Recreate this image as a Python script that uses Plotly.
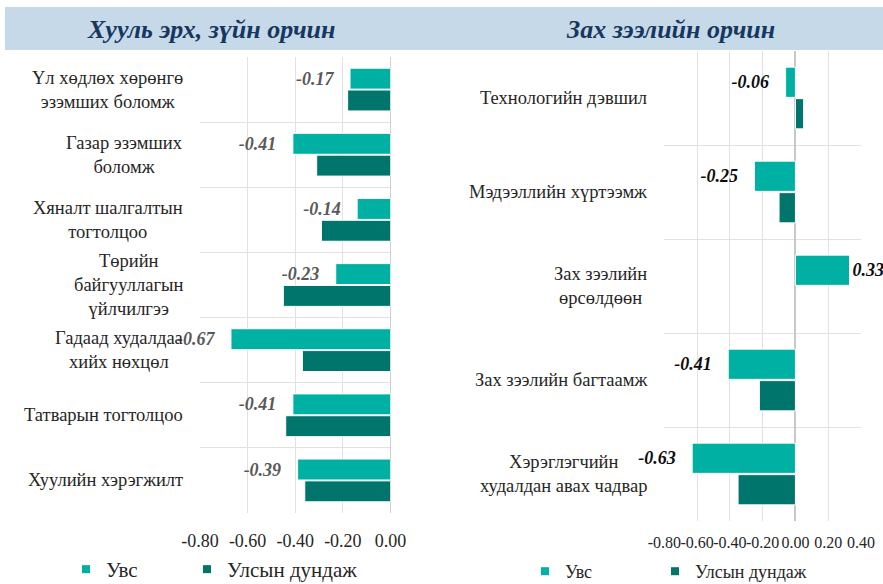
import plotly.graph_objects as go

# ---------------- data ----------------
series_names = ["Увс", "Улсын дундаж"]
panel_titles = ["Хууль эрх, зүйн орчин", "Зах зээлийн орчин"]

left_categories = [
    "Үл хөдлөх хөрөнгө\nэзэмших боломж",
    "Газар эзэмших\nболомж",
    "Хяналт шалгалтын\nтогтолцоо",
    "Төрийн\nбайгууллагын\nүйлчилгээ",
    "Гадаад худалдаа\nхийх нөхцөл",
    "Татварын тогтолцоо",
    "Хуулийн хэрэгжилт",
]
left_uvs = [-0.17, -0.41, -0.14, -0.23, -0.67, -0.41, -0.39]
left_national = [-0.18, -0.31, -0.29, -0.45, -0.37, -0.44, -0.36]
left_xticks = [-0.80, -0.60, -0.40, -0.20, 0.00]

right_categories = [
    "Технологийн дэвшил",
    "Мэдээллийн хүртээмж",
    "Зах зээлийн\nөрсөлдөөн",
    "Зах зээлийн багтаамж",
    "Хэрэглэгчийн\nхудалдан авах чадвар",
]
right_uvs = [-0.06, -0.25, 0.33, -0.41, -0.63]
right_national = [0.05, -0.10, 0.00, -0.22, -0.35]
right_xticks = [-0.80, -0.60, -0.40, -0.20, 0.00, 0.20, 0.40]

# ---------------- style ----------------
FONT = "Liberation Serif, Times New Roman, serif"
C_UVS = "#00B0A3"
C_NAT = "#00756B"
GRID = "#E2E2E2"
W, H = 883, 584
NB = "\u00a0"


def px_x(p):
    return p / W


def px_y(p):
    return 1 - p / H


def lab(v):
    s = f"{v:.2f}"
    return s + NB * 3 if v < 0 else s


def outline(vals):
    # no white outline on zero-length bars (keeps the zero line intact)
    return [0 if v == 0 else 1 for v in vals]


fig = go.Figure()

panels = [
    dict(cats=left_categories, uvs=left_uvs, nat=left_national, xa="x", ya="y",
         lab_color="#595959", legends=["legend", "legend2"]),
    dict(cats=right_categories, uvs=right_uvs, nat=right_national, xa="x2", ya="y2",
         lab_color="#0D0D0D", legends=["legend3", "legend4"]),
]

for p in panels:
    keys = [c.replace("\n", " ") for c in p["cats"]]
    fig.add_trace(go.Bar(
        y=keys, x=p["uvs"], orientation="h", name=series_names[0],
        marker=dict(color=C_UVS, line=dict(color="white", width=outline(p["uvs"]))),
        text=[lab(v) for v in p["uvs"]], textposition="outside",
        textfont=dict(family=FONT, size=18, color=p["lab_color"], weight="bold", style="italic"),
        cliponaxis=False, constraintext="none",
        xaxis=p["xa"], yaxis=p["ya"], showlegend=False, hoverinfo="skip",
    ))
    fig.add_trace(go.Bar(
        y=keys, x=p["nat"], orientation="h", name=series_names[1],
        marker=dict(color=C_NAT, line=dict(color="white", width=outline(p["nat"]))),
        xaxis=p["xa"], yaxis=p["ya"], showlegend=False, hoverinfo="skip",
    ))
    # legend entries (one legend per entry so that each can be placed)
    for nm, col, lg in zip(series_names, [C_UVS, C_NAT], p["legends"]):
        fig.add_trace(go.Scatter(
            x=[None], y=[None], mode="markers", name=nm,
            marker=dict(symbol="square", size=8, color=col),
            xaxis=p["xa"], yaxis=p["ya"], legend=lg, showlegend=True,
        ))
    # category labels (centered lines, right edge near the axis)
    for key, txt in zip(keys, p["cats"]):
        fig.add_annotation(
            x=0, xref=f"{p['xa']} domain", y=key, yref=p["ya"],
            text=txt.replace("\n", "<br>"), showarrow=False,
            xanchor="right", align="center", xshift=-15,
            font=dict(family=FONT, size=18.5, color="#262626"),
        )

# title band
fig.add_shape(type="rect", xref="paper", yref="paper",
              x0=px_x(5), x1=1.0, y0=px_y(50), y1=px_y(7),
              fillcolor="#C6D9E8", line=dict(width=0), layer="below")
for t, cx in zip(panel_titles, [211, 670]):
    fig.add_annotation(x=px_x(cx), y=px_y(29), xref="paper", yref="paper",
                       text=t, showarrow=False, xanchor="center", yanchor="middle",
                       font=dict(family=FONT, size=26, color="#17375E",
                                 weight="bold", style="italic"))

common_x = dict(showgrid=True, gridcolor=GRID, gridwidth=1, tickangle=0,
                ticks="outside", tickcolor="rgba(0,0,0,0)", showline=False,
                automargin=False, fixedrange=True)
common_y = dict(type="category", autorange="reversed", tickson="boundaries",
                showgrid=True, gridcolor=GRID, gridwidth=1, showticklabels=False,
                ticks="", showline=False, zeroline=False, fixedrange=True,
                automargin=False)


def legend_at(xpx, ypx, size):
    return dict(orientation="h", x=px_x(xpx), y=px_y(ypx), xanchor="left", yanchor="top",
                font=dict(family=FONT, size=size, color="#262626"),
                itemwidth=30, bgcolor="rgba(0,0,0,0)", borderwidth=0)


fig.update_layout(
    width=W, height=H,
    margin=dict(l=0, r=0, t=0, b=0, autoexpand=False),
    paper_bgcolor="white", plot_bgcolor="white",
    barmode="group", bargap=0.33, bargroupgap=0.04,
    font=dict(family=FONT, color="#262626"),
    xaxis=dict(domain=[px_x(200), px_x(390.5)], anchor="y",
               range=[-0.8, 0.0], tickvals=left_xticks,
               ticktext=[f"{v:.2f}" for v in left_xticks], ticklen=11,
               tickfont=dict(family=FONT, size=18, color="#262626"),
               zeroline=True, zerolinecolor="#D0D0D0", zerolinewidth=1,
               **common_x),
    yaxis=dict(domain=[px_y(513), px_y(57)], anchor="x", **common_y),
    xaxis2=dict(domain=[px_x(664.3), px_x(861)], anchor="y2",
                range=[-0.8, 0.4], tickvals=right_xticks,
                ticktext=[f"{v:.2f}" for v in right_xticks], ticklen=7,
                tickfont=dict(family=FONT, size=16, color="#262626"),
                zeroline=True, zerolinecolor="#C8C8C8", zerolinewidth=1.5,
                **common_x),
    yaxis2=dict(domain=[px_y(521), px_y(51)], anchor="x2", **common_y),
    legend=legend_at(66, 549, 21),
    legend2=legend_at(187, 549, 21),
    legend3=legend_at(525, 553, 18),
    legend4=legend_at(655, 553, 18),
)

fig.write_html("out.html", post_script="document.body.style.margin='0px';",
               config={"displayModeBar": False})
